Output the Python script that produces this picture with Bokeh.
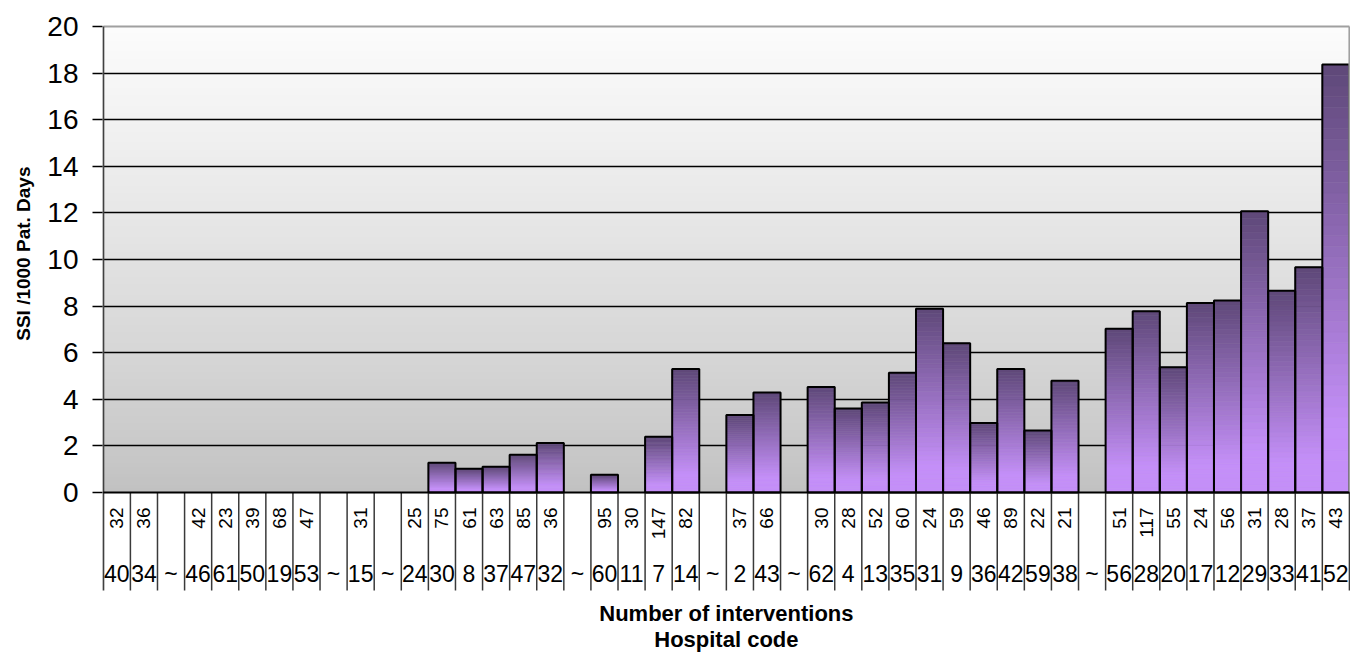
import math
import numpy as np
from bokeh.plotting import figure
from bokeh.models import FixedTicker, Range1d, Title
from bokeh.core.properties import value
from bokeh.embed import file_html
from bokeh.resources import INLINE

# ---- data (one entry per category slot; "~" slots are separators) ----
interventions = ["32", "36", "", "42", "23", "39", "68", "47", "", "31", "", "25",
                 "75", "61", "63", "85", "36", "", "95", "30", "147", "82", "",
                 "37", "66", "", "30", "28", "52", "60", "24", "59", "46", "89",
                 "22", "21", "", "51", "117", "55", "24", "56", "31", "28", "37", "43"]
hospital_codes = ["40", "34", "~", "46", "61", "50", "19", "53", "~", "15", "~", "24",
                  "30", "8", "37", "47", "32", "~", "60", "11", "7", "14", "~",
                  "2", "43", "~", "62", "4", "13", "35", "31", "9", "36", "42",
                  "59", "38", "~", "56", "28", "20", "17", "12", "29", "33", "41", "52"]
ssi_rate = [0, 0, None, 0, 0, 0, 0, 0, None, 0, None, 0,
            1.28, 1.02, 1.10, 1.62, 2.12, None, 0.76, 0, 2.39, 5.30, None,
            3.33, 4.29, None, 4.53, 3.60, 3.86, 5.14, 7.89, 6.41, 2.98, 5.30,
            2.66, 4.80, None, 7.03, 7.78, 5.38, 8.13, 8.24, 12.07, 8.66, 9.67, 18.37]
y_ticks = [0, 2, 4, 6, 8, 10, 12, 14, 16, 18, 20]
y_title = "SSI /1000 Pat. Days"
x_titles = ["Number of interventions", "Hospital code"]

n = len(hospital_codes)
FONT = "Liberation Sans"

# layout geometry (pixels)
PLOT_H = 466.0            # height of the 0..20 value band
PX = PLOT_H / (y_ticks[-1] - y_ticks[0])   # pixels per value unit
TOP_PAD = 2.0             # room above the top border line
STRIP = 163.0             # category-label strip below the value axis
FRAME_W = 1248
LEFT = 102
pad_l, pad_r = 0.03, 0.04

y_lo = y_ticks[0] - STRIP / PX
y_hi = y_ticks[-1] + TOP_PAD / PX
frame_h = int(round(PLOT_H + TOP_PAD + STRIP))

p = figure(frame_width=FRAME_W, frame_height=frame_h,
           x_range=Range1d(-pad_l, n + pad_r), y_range=Range1d(y_lo, y_hi),
           x_axis_type=None, output_backend="svg", toolbar_location=None)
p.min_border_left = LEFT
p.min_border_right = 0
p.min_border_top = 24
p.min_border_bottom = 0
p.background_fill_color = "white"
p.border_fill_color = "white"
p.outline_line_color = None

# plot-area background gradient (light top -> grey bottom)
rows = 128
grad = np.empty((rows, 1), dtype=np.uint32)
view = grad.view(dtype=np.uint8).reshape((rows, 1, 4))
for r in range(rows):
    t = r / (rows - 1)  # 0 bottom, 1 top
    g = int(round(193 + (252 - 193) * t ** 0.85))
    view[r, 0, :] = [g, g, g, 255]
p.image_rgba(image=[grad], x=0, y=y_ticks[0], dw=n, dh=y_ticks[-1] - y_ticks[0], level="image")

# grid
p.ygrid.ticker = FixedTicker(ticks=y_ticks[1:-1])
p.ygrid.grid_line_color = "black"
p.ygrid.grid_line_width = 1.5

# bars with vertical gradient (dark top -> light bottom)
dark = np.array([94, 72, 120])
light = np.array([196, 143, 248])
ns = 40
L, R, B, T, C = [], [], [], [], []
oL, oR, oT = [], [], []
for i, v in enumerate(ssi_rate):
    if v is None or v <= 0:
        continue
    oL.append(i)
    oR.append(i + 1)
    oT.append(v)
    for k in range(ns):
        frac_top = 1 - (k + 0.5) / ns
        w = min(1.0, frac_top / 0.85)
        col = dark * (1 - w) + light * w
        L.append(i)
        R.append(i + 1)
        B.append(v * k / ns)
        T.append(v * (k + 1) / ns)
        C.append("#%02x%02x%02x" % tuple(int(round(c)) for c in col))
p.quad(left=L, right=R, bottom=B, top=T, fill_color=C, line_color=C, line_width=0.6)
p.quad(left=oL, right=oR, bottom=0, top=oT, fill_color=None,
       line_color="black", line_width=2)

# category separators in the label strip
bounds = list(range(n + 1))
centers = [i + 0.5 for i in range(n)]
sep_len = 98 / PX
p.segment(x0=bounds[1:], y0=0, x1=bounds[1:], y1=-sep_len, line_color="#3a3a3a", line_width=1.5)

# plot-area borders
p.segment(x0=[0], y0=[y_ticks[-1]], x1=[n], y1=[y_ticks[-1]], line_color="#a0a0a0", line_width=2)
p.segment(x0=[n], y0=[0], x1=[n], y1=[y_ticks[-1]], line_color="#a0a0a0", line_width=2)
p.segment(x0=[0], y0=[-sep_len], x1=[0], y1=[y_ticks[-1]], line_color="#404040", line_width=2)
p.segment(x0=[0], y0=[0], x1=[n], y1=[0], line_color="black", line_width=2)

# category labels
top_x = [c for c, lab in zip(centers, interventions) if lab]
top_t = [lab for lab in interventions if lab]
p.text(x=top_x, y=-15 / PX, text=top_t, angle=math.pi / 2,
       text_align="right", text_baseline="middle",
       text_font=value(FONT), text_font_size="19px", text_color="black")
p.text(x=centers, y=-81 / PX, text=hospital_codes,
       text_align="center", text_baseline="alphabetic",
       text_font=value(FONT), text_font_size="23px", text_color="black")
mid = n / 2
p.text(x=[mid, mid], y=[-121 / PX, -147 / PX], text=x_titles,
       text_align="center", text_baseline="alphabetic",
       text_font=value(FONT), text_font_size="22px", text_font_style="bold",
       text_color="black")

# y axis
ya = p.yaxis[0]
ya.ticker = FixedTicker(ticks=y_ticks)
ya.major_tick_out = 10
ya.major_tick_in = 0
ya.minor_tick_out = 0
ya.minor_tick_in = 0
ya.major_tick_line_color = "black"
ya.major_tick_line_width = 1.5
ya.axis_line_color = None
ya.major_label_text_font = FONT
ya.major_label_text_font_size = "28px"
ya.major_label_text_color = "black"
ya.major_label_standoff = 14

# y axis title, placed next to the value band
p.add_layout(Title(text=y_title, align="right", offset=142, vertical_align="top",
                   standoff=18, text_font=FONT, text_font_size="19px",
                   text_font_style="bold", text_color="black"), "left")

open("out.html", "w").write(file_html(p, INLINE))
